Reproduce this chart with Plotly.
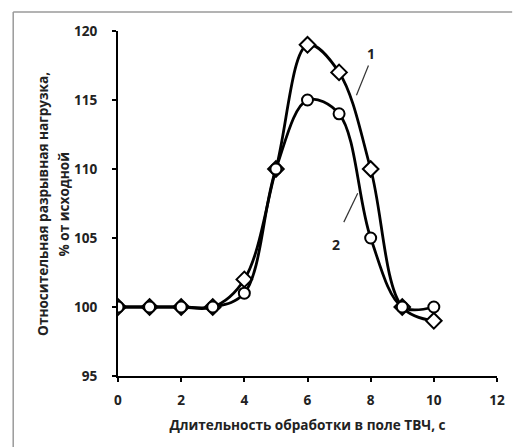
import plotly.graph_objects as go

# Treatment duration in the HF field, s
duration = [0, 1, 2, 3, 4, 5, 6, 7, 8, 9, 10]
# Relative breaking load, % of initial
series_1 = [100, 100, 100, 100, 102, 110, 119, 117, 110, 100, 99]
series_2 = [100, 100, 100, 100, 101, 110, 115, 114, 105, 100, 100]

x_ticks = [0, 2, 4, 6, 8, 10, 12]
y_ticks = [95, 100, 105, 110, 115, 120]

FONT = "Open Sans"
TXT = "#222"
line_style = dict(color="black", width=2.8, shape="spline", smoothing=1.0)

fig = go.Figure()
fig.add_trace(go.Scatter(
    x=duration, y=series_1, mode="lines+markers", name="1",
    line=line_style,
    marker=dict(symbol="diamond", size=12, color="white",
                line=dict(color="black", width=2)),
))
fig.add_trace(go.Scatter(
    x=duration, y=series_2, mode="lines+markers", name="2",
    line=line_style,
    marker=dict(symbol="circle", size=11, color="white",
                line=dict(color="black", width=2)),
))

# Curve labels with leader lines
fig.add_annotation(x=8.02, y=118.4, text="<b>1</b>", showarrow=False,
                   font=dict(family=FONT, size=14, color=TXT))
fig.add_annotation(x=6.9, y=104.5, text="<b>2</b>", showarrow=False,
                   font=dict(family=FONT, size=14, color=TXT))
fig.add_shape(type="line", x0=7.93, y0=117.5, x1=7.55, y1=115.35,
              line=dict(color="#333", width=1.2))
fig.add_shape(type="line", x0=7.59, y0=108.25, x1=7.15, y1=106.15,
              line=dict(color="#333", width=1.2))

# Vertical axis title, two lines
PLOT_W = 517 - 118 - 13
for px, line in [(41, "Относительная разрывная нагрузка,"), (63, "% от исходной")]:
    fig.add_annotation(xref="paper", yref="paper", x=(px - 118) / PLOT_W, y=0.5,
                       text=f"<b>{line}</b>", textangle=-90, showarrow=False,
                       xanchor="center", yanchor="middle",
                       font=dict(family=FONT, size=13.6, color=TXT))

# Outer frame (top and left edges)
frame = dict(color="#9a9a9a", width=1.5)
fig.add_shape(type="line", xref="paper", yref="paper",
              x0=-0.2765, y0=1.055, x1=1.04, y1=1.055, line=frame)
fig.add_shape(type="line", xref="paper", yref="paper",
              x0=-0.2765, y0=1.055, x1=-0.2765, y1=-0.21, line=frame)

fig.update_layout(
    width=517, height=447,
    margin=dict(l=118, r=13, t=31, b=71),
    paper_bgcolor="white", plot_bgcolor="white",
    showlegend=False,
    font=dict(family=FONT, size=13.6, color=TXT),
)
fig.update_xaxes(
    range=[0, 12], tickvals=x_ticks, ticktext=[f"<b>{v}</b>" for v in x_ticks],
    showline=True, linecolor="black", linewidth=2, showgrid=False,
    zeroline=False, ticks="outside", ticklen=4, tickwidth=1.5, tickcolor="black",
    ticklabelstandoff=7,
    title=dict(text="<b>Длительность обработки в поле ТВЧ, с</b>",
               standoff=12, font=dict(size=13.6)),
)
fig.update_yaxes(
    range=[95, 120], tickvals=y_ticks, ticktext=[f"<b>{v}</b>" for v in y_ticks],
    showline=True, linecolor="black", linewidth=2, showgrid=False,
    zeroline=False, ticks="outside", ticklen=4, tickwidth=1.5, tickcolor="black",
    ticklabelstandoff=12,
)

fig.write_html("out.html")
